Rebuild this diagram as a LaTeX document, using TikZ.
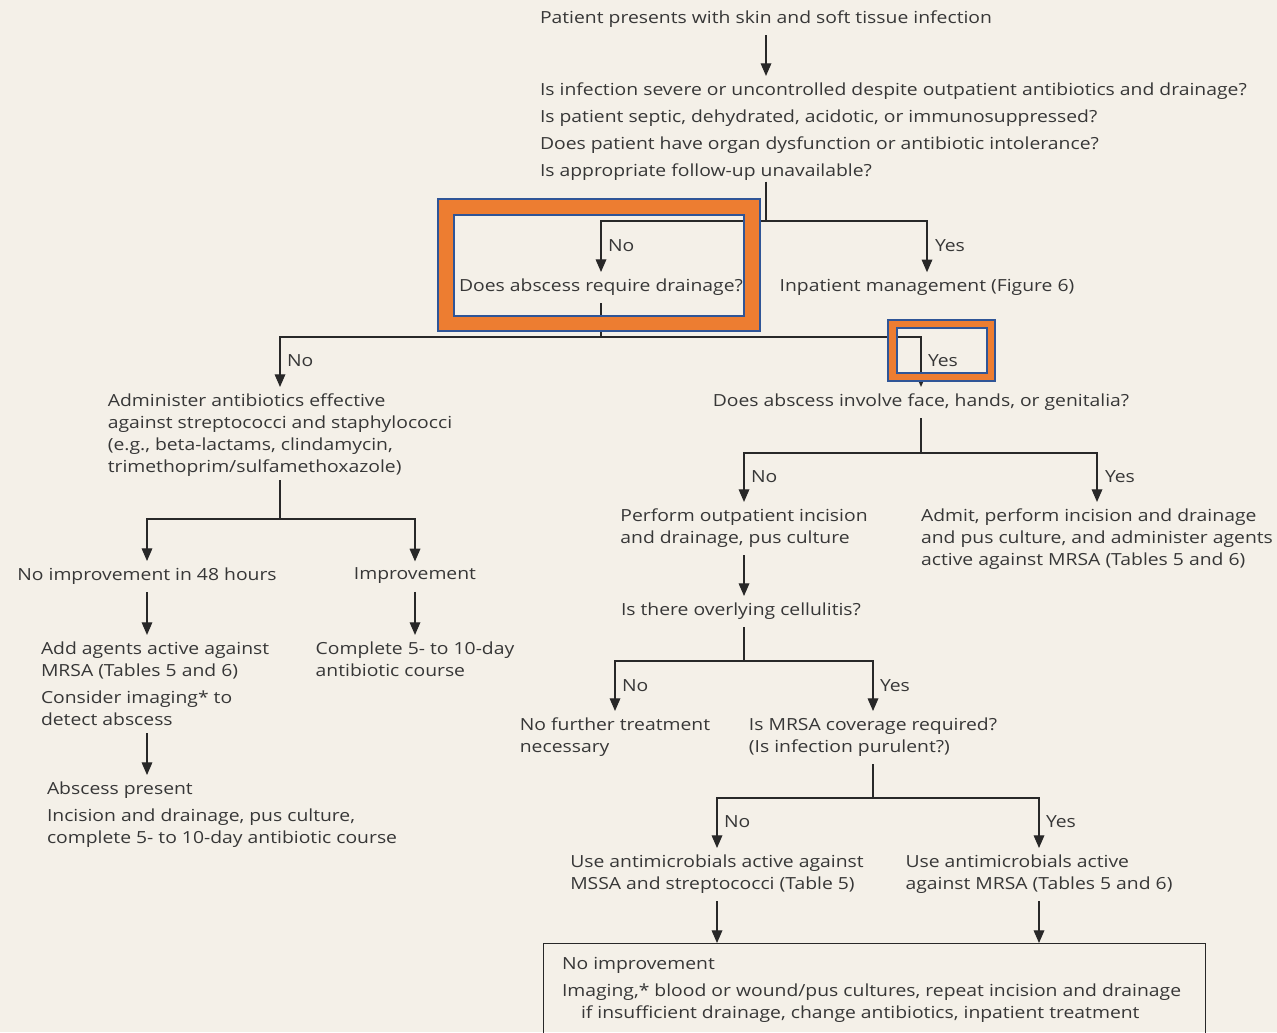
\documentclass[tikz,border=0pt]{standalone}
\usepackage{fontspec}
\setmainfont[FakeStretch=1.16]{Open Sans}
\usetikzlibrary{arrows.meta,calc}
\definecolor{bgc}{RGB}{244,240,232}
\definecolor{txtc}{RGB}{55,55,55}
\definecolor{linec}{RGB}{40,40,40}
\definecolor{orangec}{RGB}{237,125,49}
\definecolor{bluec}{RGB}{47,85,151}
\newcommand\fsN{\fontsize{12.5pt}{16.5pt}\selectfont}
\newcommand\fsQ{\fontsize{12.5pt}{20.25pt}\selectfont}
\begin{document}
\begin{tikzpicture}[x=0.75pt,y=-0.75pt,
  txt/.style={inner sep=0pt, outer sep=0pt, align=left, font=\fsN, text=txtc, yshift=-1.5pt},
  lbl/.style={txt, anchor=west},
  ln/.style={draw=linec, line width=0.9pt},
  arr/.style={ln, -{Triangle[width=8pt,length=9.5pt]}, shorten >=5pt},
  frame/.style={draw=bluec, line width=1.1pt}]
\useasboundingbox (0,0) rectangle (1277,1032);
\clip (0,0) rectangle (1277,1032);
\fill[bgc] (0,0) rectangle (1277,1032);

% nodes
\node[txt] (t0) at (766,17) {Patient presents with skin and soft tissue infection};
\node[txt, anchor=west, font=\fsQ] (q1) at (540,129.5) {Is infection severe or uncontrolled despite outpatient antibiotics and drainage?\\Is patient septic, dehydrated, acidotic, or immunosuppressed?\\Does patient have organ dysfunction or antibiotic intolerance?\\Is appropriate follow-up unavailable?};
\node[txt] (d1) at (601,285) {Does abscess require drainage?};
\node[txt] (inp) at (927,285) {Inpatient management (Figure 6)};
\node[txt] (adm) at (280,433) {Administer antibiotics effective\\against streptococci and staphylococci\\(e.g., beta-lactams, clindamycin,\\trimethoprim/sulfamethoxazole)};
\node[txt] (face) at (921,400) {Does abscess involve face, hands, or genitalia?};
\node[txt] (ni48) at (147,574) {No improvement in 48 hours};
\node[txt] (imp) at (415,574) {Improvement};
\node[txt, anchor=west] (addag) at (41,681.5) {Add agents active against\\MRSA (Tables 5 and 6)\\[3.75pt]Consider imaging* to\\detect abscess};
\node[txt] (comp) at (415,657) {Complete 5- to 10-day\\antibiotic course};
\node[txt, anchor=west] (absp) at (47,812.5) {Abscess present\\[3.75pt]Incision and drainage, pus culture,\\complete 5- to 10-day antibiotic course};
\node[txt] (perf) at (744,526) {Perform outpatient incision\\and drainage, pus culture};
\node[txt] (admit) at (1097,537) {Admit, perform incision and drainage\\and pus culture, and administer agents\\active against MRSA (Tables 5 and 6)};
\node[txt, anchor=west] (cell) at (621,609) {Is there overlying cellulitis?};
\node[txt] (nft) at (615,735) {No further treatment\\necessary};
\node[txt] (mrsa) at (873,735) {Is MRSA coverage required?\\(Is infection purulent?)};
\node[txt] (mssa) at (717,872) {Use antimicrobials active against\\MSSA and streptococci (Table 5)};
\node[txt] (mrsau) at (1039,872) {Use antimicrobials active\\against MRSA (Tables 5 and 6)};
\node[draw=linec, line width=0.9pt, anchor=north west, minimum width=496.5pt, minimum height=90pt, inner sep=0pt] (fin) at (543,943) {};
\node[txt, anchor=west] (fint) at (562,987.5) {No improvement\\[3.75pt]Imaging,* blood or wound/pus cultures, repeat incision and drainage\\\hspace*{14.25pt}if insufficient drainage, change antibiotics, inpatient treatment};

% labels
\node[lbl] (l1) at (608,244) {No};
\node[lbl] (l2) at (935,244) {Yes};
\node[lbl] (l3) at (287,359) {No};
\node[lbl] (l4) at (928,359) {Yes};
\node[lbl] (l5) at (751,475) {No};
\node[lbl] (l6) at (1105,475) {Yes};
\node[lbl] (l7) at (622,684) {No};
\node[lbl] (l8) at (880,684) {Yes};
\node[lbl] (l9) at (724,820) {No};
\node[lbl] (l10) at (1046,820) {Yes};

% junctions
\coordinate (j1) at (766,221);
\coordinate (j2) at (601,337);
\coordinate (j3) at (280,519);
\coordinate (j4) at (921,453);
\coordinate (j5) at (744,661);
\coordinate (j6) at (873,798);

% connectors
\draw[arr, shorten <=6pt] (t0.south) -- (t0.south |- q1.north);
\draw[ln, shorten <=1pt] (q1.south -| j1) -- (j1);
\draw[arr] (j1) -| (d1.north);
\draw[arr] (j1) -| (inp.north);
\draw[ln, shorten <=6pt] (d1.south) -- (j2);
\draw[arr] (j2) -| (adm.north);
\draw[arr] (j2) -| (face.north);
\draw[ln, shorten <=3pt] (adm.south) -- (j3);
\draw[arr] (j3) -| (ni48.north);
\draw[arr] (j3) -| (imp.north);
\draw[arr, shorten <=6pt] (ni48.south) -- (ni48.south |- addag.north);
\draw[arr, shorten <=6pt] (imp.south) -- (imp.south |- comp.north);
\draw[arr, shorten <=6pt] (addag.south -| ni48.south) -- (ni48.south |- absp.north);
\draw[ln, shorten <=6pt] (face.south) -- (j4);
\draw[arr] (j4) -| (perf.north);
\draw[arr] (j4) -| (admit.north);
\draw[arr, shorten <=6pt] (perf.south) -- (perf.south |- cell.north);
\draw[ln, shorten <=6pt] (cell.south -| j5) -- (j5);
\draw[arr] (j5) -| (nft.north);
\draw[arr] (j5) -| (mrsa.north);
\draw[ln, shorten <=6pt] (mrsa.south) -- (j6);
\draw[arr] (j6) -| (mssa.north);
\draw[arr] (j6) -| (mrsau.north);
\draw[arr, shorten <=6pt, shorten >=0pt] (mssa.south) -- (mssa.south |- fin.north);
\draw[arr, shorten <=6pt, shorten >=0pt] (mrsau.south) -- (mrsau.south |- fin.north);

% highlight frames
\fill[orangec, even odd rule] (438,199) rectangle (760,331) (454,215) rectangle (744,316);
\draw[frame] (438,199) rectangle (760,331);
\draw[frame] (454,215) rectangle (744,316);
\fill[orangec, even odd rule] (888,320) rectangle (995,381) (897,328) rectangle (987,373);
\draw[frame] (888,320) rectangle (995,381);
\draw[frame] (897,328) rectangle (987,373);
\end{tikzpicture}
\end{document}
